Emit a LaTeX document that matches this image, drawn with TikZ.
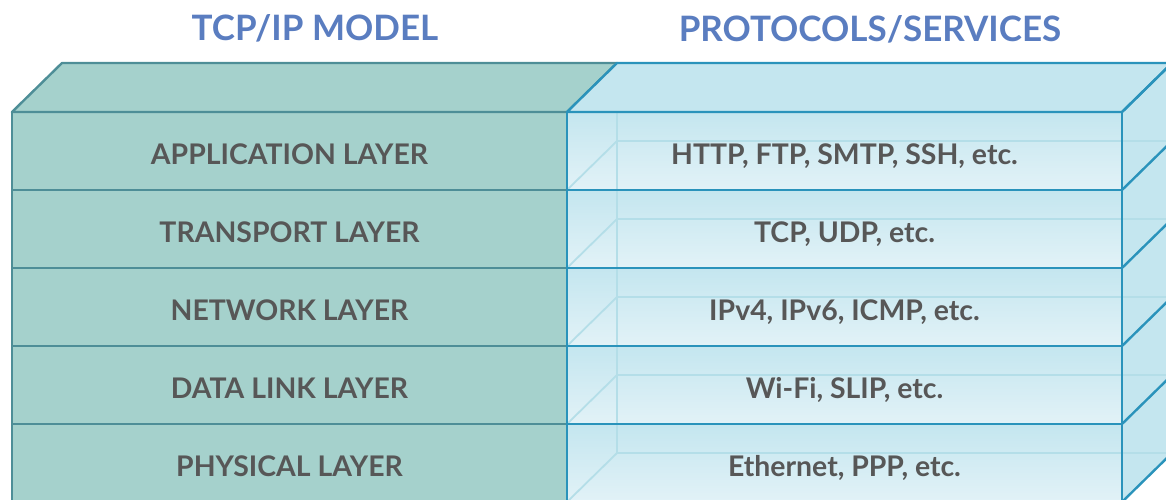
\documentclass[tikz,border=0pt]{standalone}
\usepackage{fontspec}
\setmainfont{Lato}
\usetikzlibrary{positioning}

\definecolor{tealfill}{HTML}{A5D1CC}
\definecolor{tealline}{HTML}{4E8E97}
\definecolor{glassfill}{HTML}{C4E6EF}
\definecolor{glasslow}{HTML}{E2F2F7}
\definecolor{glassline}{HTML}{2A93BB}
\definecolor{glassfaint}{HTML}{B4DEE8}
\definecolor{labelgray}{HTML}{575757}
\definecolor{titleblue}{HTML}{5A7DC0}

\tikzset{
	layerbox/.style={draw=tealline, fill=tealfill, line width=2.4pt,
		minimum width=555pt, minimum height=78pt, inner sep=0pt, outer sep=0pt,
		text height=26.5pt, text depth=0pt,
		text=labelgray, font=\fontsize{28.4}{32}\selectfont\bfseries},
	protobox/.style={draw=glassline, top color=glassfill, bottom color=glasslow,
		line width=2.4pt, minimum width=555pt, minimum height=78pt, inner sep=0pt, outer sep=0pt},
	protolabel/.style={text=labelgray, font=\fontsize{28.4}{32}\selectfont\bfseries, yshift=-5pt},
	heading/.style={text=titleblue, font=\fontsize{35}{40}\selectfont\bfseries},
	faint/.style={glassfaint, line width=1.8pt},
}

\begin{document}
\begin{tikzpicture}[x=1pt, y=-1pt]
\useasboundingbox (0,0) rectangle (1166,500);

% depth of the slabs
\coordinate (d) at (50,-49);

% left column: the model
\node[layerbox] (app) at (289.5,151) {APPLICATION LAYER};
\node[layerbox, below=0pt of app] (trans) {TRANSPORT LAYER};
\node[layerbox, below=0pt of trans] (net) {NETWORK LAYER};
\node[layerbox, below=0pt of net] (link) {DATA LINK LAYER};
\node[layerbox, below=0pt of link] (phys) {PHYSICAL LAYER};

\draw[tealline, fill=tealfill, line width=2.4pt, line join=round]
	(app.north west) -- ++(d) -- ([shift={(d)}]app.north east) -- (app.north east) -- cycle;

% right column: glass slabs
\node[protobox, right=0pt of app] (http) {};
\node[protobox, right=0pt of trans] (tcp) {};
\node[protobox, right=0pt of net] (ip) {};
\node[protobox, right=0pt of link] (wifi) {};
\node[protobox, right=0pt of phys] (eth) {};

\fill[glassfill] (http.north east) -- ++(d) -- ([shift={(d)}]eth.south east) -- (eth.south east) -- cycle;

% back edges seen through the glass
\draw[faint] ([shift={(d)}]http.north west) -- ([shift={(d)}]eth.south west);
\foreach \row in {http, tcp, ip, wifi, eth} {
	\draw[faint] (\row.south west) -- ++(d) -- ([shift={(d)}]\row.south east);
}

% front edges
\foreach \row in {http, tcp, ip, wifi, eth} {
	\draw[glassline, line width=2.4pt] (\row.north west) rectangle (\row.south east);
	\draw[glassline, line width=2.4pt] (\row.south east) -- ++(d);
}
\draw[glassline, fill=glassfill, line width=2.4pt, line join=round]
	(http.north west) -- ++(d) -- ([shift={(d)}]http.north east) -- (http.north east) -- cycle;
\draw[glassline, line width=2.4pt] (http.north east) -- ++(d);

\node[protolabel] (httpl) at (http) {HTTP, FTP, SMTP, SSH, etc.};
\node[protolabel] (tcpl) at (tcp) {TCP, UDP, etc.};
\node[protolabel] (ipl) at (ip) {IPv4, IPv6, ICMP, etc.};
\node[protolabel] (wifil) at (wifi) {Wi-Fi, SLIP, etc.};
\node[protolabel] (ethl) at (eth) {Ethernet, PPP, etc.};

% column headings
\node[heading] (model) at (315,28) {TCP/IP MODEL};
\node[heading] (protos) at (870,29) {PROTOCOLS/SERVICES};
\end{tikzpicture}
\end{document}
